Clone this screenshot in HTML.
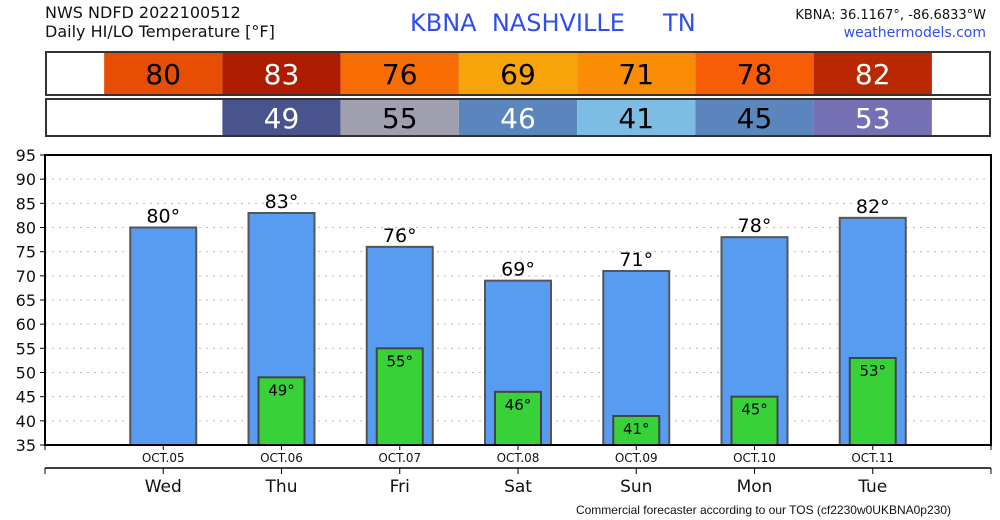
<!DOCTYPE html>
<html><head><meta charset="utf-8"><style>
body{margin:0;background:#fff;width:1000px;height:520px;overflow:hidden}
svg{display:block;font-family:"DejaVu Sans","Liberation Sans",sans-serif}
</style></head><body>
<svg id="c" width="1000" height="520" xmlns="http://www.w3.org/2000/svg">
<text x="45" y="18" font-size="16" fill="#111">NWS NDFD 2022100512</text>
<text x="45" y="37" font-size="16" fill="#111">Daily HI/LO Temperature [°F]</text>
<text x="410" y="31" font-size="24" fill="#2f4df0" xml:space="preserve">KBNA  NASHVILLE     TN</text>
<text x="986" y="19" font-size="13" fill="#111" text-anchor="end">KBNA: 36.1167°, -86.6833°W</text>
<text x="986" y="37" font-size="14" fill="#2f4df0" text-anchor="end">weathermodels.com</text>
<g id="g"></g>
<text x="951" y="514" font-size="12" fill="#111" text-anchor="end" font-family="Liberation Sans, sans-serif">Commercial forecaster according to our TOS (cf2230w0UKBNA0p230)</text>
</svg>
<script>
const days = ["Wed","Thu","Fri","Sat","Sun","Mon","Tue"];
const dates = ["OCT.05","OCT.06","OCT.07","OCT.08","OCT.09","OCT.10","OCT.11"];
const highs = [80,83,76,69,71,78,82];
const lows = [null,49,55,46,41,45,53];
const yTicks = [35,40,45,50,55,60,65,70,75,80,85,90,95];
const hiColors = ["#e84e03","#ae1c02","#f76d04","#f7a40a","#f98d06","#f75d04","#ba2802"];
const hiText = ["#000","#fff","#000","#000","#000","#000","#fff"];
const loColors = [null,"#4a548c","#a09fb0","#5b86bd","#7ebde3","#5b86bd","#7570b3"];
const loText = [null,"#fff","#000","#fff","#000","#000","#fff"];

const NS="http://www.w3.org/2000/svg";
const g=document.getElementById('g');
const X0=45,X1=991,Y0=445,Y1=155;
const xs=i=>X0+(i+1)*(X1-X0)/8;
const ys=v=>Y0-(v-35)*(Y0-Y1)/60;
const step=(X1-X0)/8;
function el(t,a,txt){const e=document.createElementNS(NS,t);for(const k in a)e.setAttribute(k,a[k]);if(txt!=null)e.textContent=txt;g.appendChild(e);return e;}

// top boxes
let r=el('rect',{x:X0+1,y:52,width:X1-X0-2,height:43,fill:'#fff',stroke:'#333','stroke-width':2});


r=el('rect',{x:X0+1,y:99,width:X1-X0-2,height:37,fill:'#fff',stroke:'#333','stroke-width':2});


highs.forEach((v,i)=>{
  const c=el('rect',{x:xs(i)-step/2,y:53,width:step,height:41,fill:hiColors[i]});
  
  
  const t=el('text',{x:xs(i),y:84,'font-size':28,'text-anchor':'middle',fill:hiText[i]},v);
  
  
});
lows.forEach((v,i)=>{
  if(v==null)return;
  const c=el('rect',{x:xs(i)-step/2,y:100,width:step,height:35,fill:loColors[i]});
  
  
  const t=el('text',{x:xs(i),y:128,'font-size':28,'text-anchor':'middle',fill:loText[i]},v);
  
  
});

// grid and y ticks
yTicks.forEach(v=>{
  const y=ys(v);
  if(v>35&&v<95){const l=el('line',{x1:X0,x2:X1,y1:y,y2:y,stroke:'#bbb','stroke-dasharray':'2,5'});
  
  }
  el('line',{x1:X0-5,x2:X0,y1:y,y2:y,stroke:'#000','stroke-width':1});
  const t=el('text',{x:X0-9,y:y+6,'font-size':16,'text-anchor':'end',fill:'#111'},v);
  
  
});

// bars
highs.forEach((v,i)=>{
  const w=66,x=xs(i)-w/2,y=ys(v);
  const b=el('rect',{x:x,y:y,width:w,height:Y0-y,fill:'#589cf2',stroke:'#555','stroke-width':2});
  
  
  const t=el('text',{x:xs(i),y:y-5,'font-size':19,'text-anchor':'middle',fill:'#000'},v+'°');
  
  
});
lows.forEach((v,i)=>{
  if(v==null)return;
  const w=46,x=xs(i)-w/2,y=ys(v);
  const b=el('rect',{x:x,y:y,width:w,height:Y0-y,fill:'#38d13a',stroke:'#444','stroke-width':2});
  
  
  const t=el('text',{x:xs(i),y:y+18,'font-size':15,'text-anchor':'middle',fill:'#000'},v+'°');
  
  
});

// frame
const f=el('path',{d:`M${X0} ${Y0}V${Y1}H${X1}V${Y0}Z`,fill:'none',stroke:'#000','stroke-width':2});


el('line',{x1:X0,x2:X0,y1:Y0,y2:Y0+5,stroke:'#000'});
el('line',{x1:X1,x2:X1,y1:Y0,y2:Y0+5,stroke:'#000'});
const a2=el('line',{x1:X0,x2:X1,y1:468,y2:468,stroke:'#000','stroke-width':1.5});


el('line',{x1:X0,x2:X0,y1:468,y2:474,stroke:'#000'});
el('line',{x1:X1,x2:X1,y1:468,y2:474,stroke:'#000'});
days.forEach((d,i)=>{
  el('line',{x1:xs(i),x2:xs(i),y1:Y0,y2:Y0+5,stroke:'#000'});
  el('line',{x1:xs(i),x2:xs(i),y1:468,y2:474,stroke:'#000'});
  const t=el('text',{x:xs(i),y:462,'font-size':12,'text-anchor':'middle',fill:'#111'},dates[i]);
  
  
  const t2=el('text',{x:xs(i),y:492,'font-size':17,'text-anchor':'middle',fill:'#111'},d);
  
  
});
</script>
</body></html>
